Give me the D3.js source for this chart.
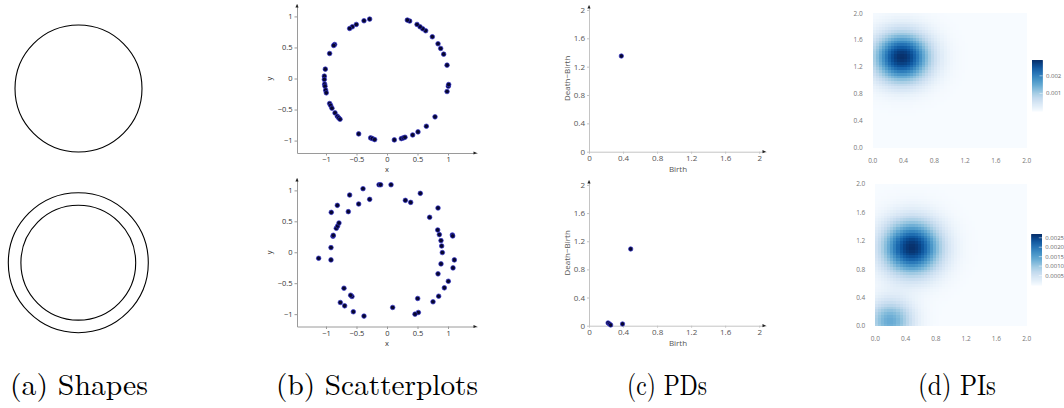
<!DOCTYPE html>
<html><head><meta charset="utf-8">
<script src="https://cdn.jsdelivr.net/npm/d3@7"></script>
<style>
body{margin:0;background:#fff;}
svg{display:block;}
</style></head>
<body>
<svg id="c" width="1064" height="408"></svg>
<script>
// ---------------- DATA ----------------
const captions = ["(a) Shapes", "(b) Scatterplots", "(c) PDs", "(d) PIs"];
// (a) shapes: circle radii (unit circle) for top and bottom (annulus)
const shapeTopRadii = [1];
const shapeBotRadii = [1, 0.82];

// (b) scatterplots
const scatterTopX = [-0.284,-0.377,-0.503,-0.568,-0.612,-0.858,-0.874,-0.940,-1.011,-1.027,-1.027,-1.022,-1.016,-1.005,-0.995,-0.940,-0.923,-0.902,-0.852,-0.814,-0.792,-0.770,-0.464,-0.268,-0.240,-0.202,0.120,0.235,0.268,0.295,0.421,0.508,0.645,0.787,0.984,1.005,1.011,0.984,0.929,0.880,0.836,0.743,0.634,0.585,0.541,0.492,0.372,0.333];
const scatterTopY = [0.957,0.930,0.871,0.833,0.806,0.548,0.532,0.403,0.151,0.038,-0.016,-0.091,-0.124,-0.188,-0.231,-0.403,-0.435,-0.478,-0.554,-0.608,-0.634,-0.656,-0.892,-0.957,-0.968,-0.984,-0.989,-0.968,-0.957,-0.946,-0.909,-0.860,-0.769,-0.618,-0.210,-0.124,-0.097,0.215,0.392,0.484,0.559,0.672,0.769,0.801,0.833,0.871,0.925,0.941];
const scatterBotX = [-1.120,-0.918,-0.918,-0.885,-0.880,-0.831,-0.809,-0.787,-0.913,-0.814,-0.634,-0.612,-0.464,-0.393,-0.284,-0.131,-0.104,0.066,0.301,0.388,0.546,0.699,0.836,0.831,0.858,0.885,0.896,0.907,0.885,1.071,1.077,1.104,1.082,1.005,0.940,0.836,0.847,0.754,0.503,0.514,0.459,0.093,-0.377,-0.552,-0.574,-0.596,-0.705,-0.694,-0.765];
const scatterBotY = [-0.097,0.075,-0.124,0.258,0.274,0.387,0.425,0.473,0.645,0.758,0.656,0.925,0.780,1.027,0.855,1.091,1.091,1.091,0.839,0.806,0.952,0.565,0.715,0.360,0.285,0.188,0.102,-0.005,-0.188,0.280,0.263,-0.124,-0.253,-0.468,-0.575,-0.349,-0.710,-0.801,-0.747,-0.973,-1.000,-0.892,-1.032,-0.962,-0.715,-0.694,-0.581,-0.866,-0.812];
const scatterTicks = [-1, -0.5, 0, 0.5, 1];

// (c) persistence diagrams
const pdTopBirth = [0.38];
const pdTopPers  = [1.35];
const pdBotBirth = [0.224, 0.240, 0.255, 0.394, 0.49];
const pdBotPers  = [0.040, 0.025, 0.010, 0.025, 1.09];
const pdTicks = [0, 0.4, 0.8, 1.2, 1.6, 2];

// (d) persistence images: kernel peaks (birth, persistence, height, spread)
const piTopBirth = [0.38];
const piTopPers  = [1.35];
const piTopPeak  = [0.0029];
const piTopSpread = [0.25];
const piBotBirth = [0.48, 0.2];
const piBotPers  = [1.11, 0.08];
const piBotPeak  = [0.0027, 0.0014];
const piBotSpread = [0.26, 0.2];
const piTicks = [0, 0.4, 0.8, 1.2, 1.6, 2.0];
const cbTopMax = 0.0029, cbBotMax = 0.0027;
const cbTopTicks = [0.001, 0.002];
const cbBotTicks = [0.0005, 0.0010, 0.0015, 0.0020, 0.0025];

// ---------------- DRAW ----------------
const svg = d3.select("#c");
const FONT = '"Open Sans", sans-serif';
const SERIF = '"Latin Modern Roman", "Liberation Serif", serif';

// captions
const capPos = [[10,148],[276,478],[627,707],[918,996]];
captions.forEach((t,i)=>{
  svg.append("text").attr("x",capPos[i][0]).attr("y",395)
    .attr("textLength",capPos[i][1]-capPos[i][0]).attr("lengthAdjust","spacingAndGlyphs")
    .style("font-family",SERIF).style("font-size","29.5px").attr("fill","#000").text(t);
});

// (a) shapes
function shape(cx, cy, R, radii){
  const s = d3.scaleLinear().domain([0,1]).range([0,R]);
  svg.append("g").selectAll("circle").data(radii).join("circle")
    .attr("cx",cx).attr("cy",cy).attr("r",d=>s(d))
    .attr("fill","none").attr("stroke","#000").attr("stroke-width",1.1);
}
shape(78.5, 88.5, 63.5, shapeTopRadii);
shape(78.3, 262.7, 70, shapeBotRadii);

function arrowHead(g, x, y, dir){
  const p = dir==="up" ? [[x-1.6,y+3.5],[x+1.6,y+3.5],[x,y]] : [[x-3.5,y-1.6],[x-3.5,y+1.6],[x,y]];
  g.append("path").attr("d","M"+p.map(q=>q.join(",")).join("L")+"Z").attr("fill","#222");
}

function styleAxis(g, lineColor, textColor, fs){
  g.select(".domain").attr("stroke",lineColor).attr("stroke-width",1);
  g.selectAll(".tick line").attr("stroke",lineColor);
  g.selectAll(".tick text").attr("fill",textColor).style("font-family",FONT).style("font-size",fs+"px");
}

// (b) scatterplots
function scatter(xs, ys, top, bottom){
  const x = d3.scaleLinear().domain([-1.475,1.475]).range([297,477]);
  const y = d3.scaleLinear().domain([-1.2,1.2]).range([bottom, top]);
  const g = svg.append("g");
  const fmt = d3.format("~g");
  const ax = g.append("g").attr("transform",`translate(0,${bottom})`)
    .call(d3.axisBottom(x).tickValues(scatterTicks).tickSize(2.5).tickSizeOuter(0).tickPadding(1.5).tickFormat(fmt));
  styleAxis(ax,"#9a9a9a","#333",7.5);
  const ay = g.append("g").attr("transform",`translate(297,0)`)
    .call(d3.axisLeft(y).tickValues(scatterTicks).tickSize(2.5).tickSizeOuter(0).tickPadding(2).tickFormat(fmt));
  styleAxis(ay,"#9a9a9a","#333",7.5);
  arrowHead(g, 297, top, "up");
  arrowHead(g, 477, bottom, "right");
  g.append("text").attr("x",387).attr("y",bottom+19).attr("text-anchor","middle")
    .style("font-family",FONT).style("font-size","7.5px").attr("fill","#333").text("x");
  g.append("text").attr("transform",`translate(272,${y(0)}) rotate(-90)`).attr("text-anchor","middle")
    .style("font-family",FONT).style("font-size","7.5px").attr("fill","#333").text("y");
  g.append("g").selectAll("circle").data(d3.range(xs.length)).join("circle")
    .attr("cx",i=>x(xs[i])).attr("cy",i=>y(ys[i])).attr("r",2.3)
    .attr("fill","#06062e").attr("stroke","#3535d0").attr("stroke-width",0.7);
}
scatter(scatterTopX, scatterTopY, 4, 153);
scatter(scatterBotX, scatterBotY, 178, 326.5);

// (c) persistence diagrams
function pd(bs, ps, top, bottom){
  const x = d3.scaleLinear().domain([0,2.08]).range([589,766]);
  const y = d3.scaleLinear().domain([0,2.07]).range([bottom, top]);
  const g = svg.append("g");
  const fmt = d3.format("~g");
  const ax = g.append("g").attr("transform",`translate(0,${bottom})`)
    .call(d3.axisBottom(x).tickValues(pdTicks).tickSize(2).tickSizeOuter(0).tickPadding(2).tickFormat(fmt));
  styleAxis(ax,"#c4c4c4","#555",8);
  const ay = g.append("g").attr("transform",`translate(589,0)`)
    .call(d3.axisLeft(y).tickValues(pdTicks).tickSize(2).tickSizeOuter(0).tickPadding(2).tickFormat(fmt));
  styleAxis(ay,"#c4c4c4","#555",8);
  arrowHead(g, 589, top, "up");
  arrowHead(g, 766, bottom, "right");
  g.append("text").attr("x",678).attr("y",bottom+20).attr("text-anchor","middle")
    .style("font-family",FONT).style("font-size","8px").attr("fill","#555").text("Birth");
  g.append("text").attr("transform",`translate(570,${(top+bottom)/2}) rotate(-90)`).attr("text-anchor","middle")
    .style("font-family",FONT).style("font-size","8px").attr("fill","#555").text("Death\u2212Birth");
  g.append("g").selectAll("circle").data(d3.range(bs.length)).join("circle")
    .attr("cx",i=>x(bs[i])).attr("cy",i=>y(ps[i])).attr("r",2.2)
    .attr("fill","#06062e").attr("stroke","#3535d0").attr("stroke-width",0.7);
}
pd(pdTopBirth, pdTopPers, 5, 151.7);
pd(pdBotBirth, pdBotPers, 180, 325.7);

// (d) persistence images
function pi(bs, ps, amps, sig, x0, x1, y0, y1, vmax, cbx, cby0, cby1, cbTicks, cbFmt){
  const N = 50;
  const x = d3.scaleLinear().domain([0,2]).range([x0,x1]);
  const y = d3.scaleLinear().domain([0,2]).range([y1,y0]);
  const color = d3.scaleSequential(d3.interpolateBlues).domain([0,vmax]);
  const cw = 2/N;
  const cells = [];
  for(let i=0;i<N;i++) for(let j=0;j<N;j++){
    const b = (i+0.5)*cw, p = (j+0.5)*cw;
    let v = 0;
    for(let k=0;k<bs.length;k++){
      const d2 = (b-bs[k])**2 + (p-ps[k])**2;
      v += amps[k]*Math.exp(-d2/(2*sig[k]*sig[k]));
    }
    cells.push({i,j,v});
  }
  const g = svg.append("g");
  g.append("g").selectAll("rect").data(cells).join("rect")
    .attr("x",d=>x(d.i*cw)).attr("y",d=>y((d.j+1)*cw))
    .attr("width",d=>x((d.i+1)*cw)-x(d.i*cw)+0.4).attr("height",d=>y(d.j*cw)-y((d.j+1)*cw)+0.4)
    .attr("fill",d=>color(d.v)).attr("shape-rendering","crispEdges");
  const f1 = d3.format(".1f");
  g.append("g").selectAll("text").data(piTicks).join("text")
    .attr("x",d=>x(d)).attr("y",y1+15).attr("text-anchor","middle")
    .style("font-family",FONT).style("font-size","6.5px").attr("fill","#777").text(f1);
  g.append("g").selectAll("text").data(piTicks).join("text")
    .attr("x",x0-10).attr("y",d=>y(d)+2.3).attr("text-anchor","end")
    .style("font-family",FONT).style("font-size","6.5px").attr("fill","#777").text(f1);
  // colorbar
  const cy = d3.scaleLinear().domain([0,vmax]).range([cby1,cby0]);
  const steps = d3.range(0,100);
  g.append("g").selectAll("rect").data(steps).join("rect")
    .attr("x",cbx).attr("width",10.7)
    .attr("y",s=>cy(vmax*(s+1)/100)).attr("height",s=>cy(vmax*s/100)-cy(vmax*(s+1)/100)+0.5)
    .attr("fill",s=>color(vmax*(s+0.5)/100));
  g.append("g").selectAll("line").data(cbTicks).join("line")
    .attr("x1",cbx+7.5).attr("x2",cbx+10.7).attr("y1",d=>cy(d)).attr("y2",d=>cy(d))
    .attr("stroke","#fff").attr("stroke-opacity",0.6).attr("stroke-width",0.8);
  g.append("g").selectAll("text").data(cbTicks).join("text")
    .attr("x",cbx+14).attr("y",d=>cy(d)+2).style("font-family",FONT).style("font-size","6px")
    .attr("fill","#666").text(cbFmt);
}
pi(piTopBirth, piTopPers, piTopPeak, piTopSpread, 872.7, 1026.7, 13.3, 147.7, cbTopMax, 1032, 60, 111, cbTopTicks, d3.format(".3f"));
pi(piBotBirth, piBotPers, piBotPeak, piBotSpread, 875.3, 1026.7, 184, 326, cbBotMax, 1031.3, 234, 285, cbBotTicks, d3.format(".4f"));
</script>
</body></html>
